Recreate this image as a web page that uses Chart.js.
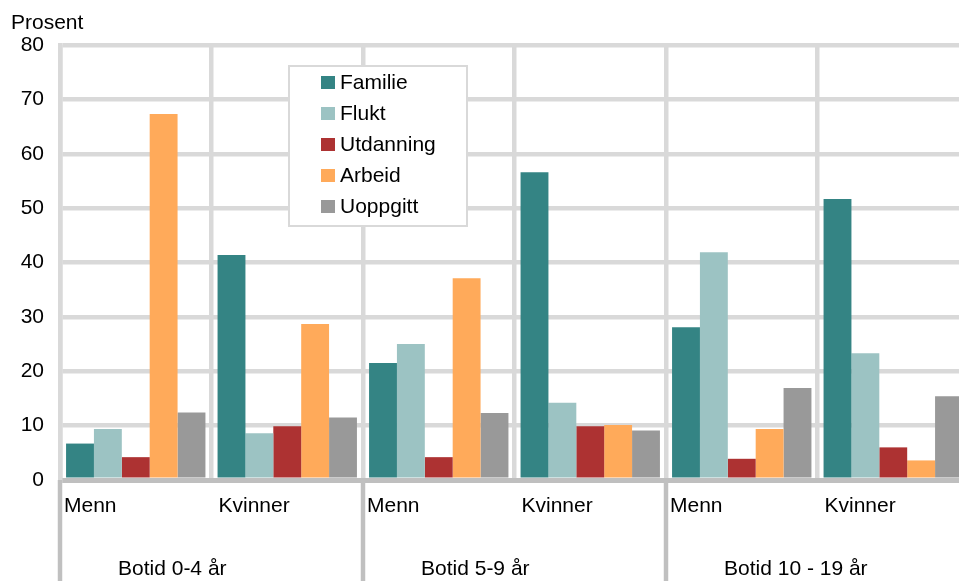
<!DOCTYPE html>
<html>
<head>
<meta charset="utf-8">
<script src="https://cdn.jsdelivr.net/npm/chart.js@4"></script>
<style>
	html, body { margin: 0; padding: 0; overflow: hidden; background: #fff; }
	.wrap { width: 975px; height: 581px; position: relative; }
</style>
</head>
<body>
<div class="wrap"><canvas id="chart"></canvas></div>
<script>
const categories = ["Menn", "Kvinner", "Menn", "Kvinner", "Menn", "Kvinner"];
const groups = ["Botid 0-4 år", "Botid 5-9 år", "Botid 10 - 19 år"];
const seriesNames = ["Familie", "Flukt", "Utdanning", "Arbeid", "Uoppgitt"];
const familie = [6.7, 41.4, 21.5, 56.6, 28.1, 51.7];
const flukt = [9.4, 8.6, 25.0, 14.2, 41.9, 23.3];
const utdanning = [4.2, 9.9, 4.2, 9.9, 3.9, 6.0];
const arbeid = [67.3, 28.7, 37.1, 10.1, 9.4, 3.6];
const uoppgitt = [12.4, 11.5, 12.3, 9.1, 16.9, 15.4];
const colors = ["#348484", "#9cc3c3", "#ad3232", "#ffaa5a", "#999999"];

const FONT = "'Liberation Sans', Arial, sans-serif";
const FONT_SIZE = 21;

// labels under the axis: Menn/Kvinner, group names and group separators
const belowAxis = {
	id: "belowAxis",
	afterDraw(chart) {
		const { ctx, chartArea, scales: { x } } = chart;
		const step = (x.right - x.left) / categories.length;
		ctx.save();
		ctx.font = `${FONT_SIZE}px ${FONT}`;
		ctx.fillStyle = "#000";
		ctx.textAlign = "left";
		ctx.textBaseline = "alphabetic";
		categories.forEach((label, i) => {
			const start = x.getPixelForValue(i) - step / 2;
			ctx.fillText(label, start + (i % 2 ? 7 : 4), chartArea.bottom + 32);
		});
		ctx.strokeStyle = "#c0c0c0";
		ctx.lineWidth = 4.5;
		groups.forEach((label, g) => {
			const start = x.getPixelForValue(g * 2) - step / 2;
			ctx.beginPath();
			ctx.moveTo(start, chartArea.bottom);
			ctx.lineTo(start, chart.height);
			ctx.stroke();
			ctx.fillText(label, start + 58, chartArea.bottom + 95);
		});
		ctx.fillText("Prosent", 11, 29);
		ctx.restore();
	},
};

// boxed legend inside the plot
const boxLegend = {
	id: "boxLegend",
	afterDatasetsDraw(chart) {
		const { ctx } = chart;
		const bx = 289, by = 66, bw = 178, bh = 160;
		ctx.save();
		ctx.fillStyle = "#fff";
		ctx.fillRect(bx, by, bw, bh);
		ctx.strokeStyle = "#d9d9d9";
		ctx.lineWidth = 2;
		ctx.strokeRect(bx, by, bw, bh);
		ctx.font = `${FONT_SIZE}px ${FONT}`;
		ctx.textAlign = "left";
		ctx.textBaseline = "alphabetic";
		chart.data.datasets.forEach((ds, i) => {
			const base = by + 23 + i * 31;
			ctx.fillStyle = ds.backgroundColor;
			ctx.fillRect(bx + 32, base - 13, 14, 13);
			ctx.fillStyle = "#000";
			ctx.fillText(ds.label, bx + 51, base);
		});
		ctx.restore();
	},
};

const values = [familie, flukt, utdanning, arbeid, uoppgitt];

new Chart(document.getElementById("chart"), {
	type: "bar",
	plugins: [boxLegend, belowAxis],
	data: {
		labels: categories,
		datasets: seriesNames.map((name, i) => ({
			label: name,
			data: values[i],
			backgroundColor: colors[i],
			borderWidth: 0,
			categoryPercentage: 0.92,
			barPercentage: 1.0,
		})),
	},
	options: {
		responsive: true,
		maintainAspectRatio: false,
		animation: false,
		layout: { padding: { top: 45, right: 6, left: 0, bottom: 0 } },
		plugins: {
			legend: { display: false },
			tooltip: { enabled: false },
		},
		scales: {
			x: {
				ticks: { display: false },
				grid: { color: "#d9d9d9", lineWidth: 4.5, drawTicks: false, offset: true },
				border: { display: true, color: "#bfbfbf", width: 5 },
				afterFit: scale => { scale.height = 101; },
			},
			y: {
				min: 0,
				max: 80,
				ticks: {
					stepSize: 10,
					padding: 16,
					color: "#000",
					font: { family: FONT, size: FONT_SIZE },
				},
				grid: {
					color: c => (c.tick.value === 0 ? "#bfbfbf" : "#d9d9d9"),
					lineWidth: c => (c.tick.value === 0 ? 5 : 4.5),
					drawTicks: false,
				},
				border: { display: true, color: "#d9d9d9", width: 4.5 },
				afterFit: scale => { scale.width = 60; },
			},
		},
	},
});
</script>
</body>
</html>
